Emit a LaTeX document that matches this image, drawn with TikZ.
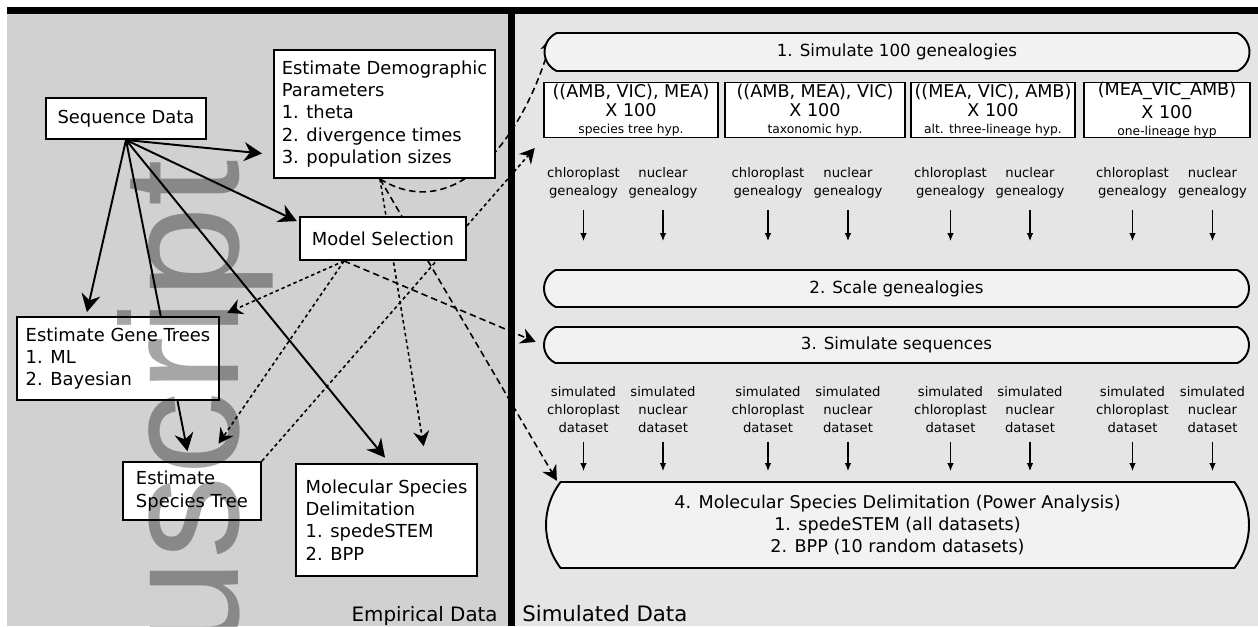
\documentclass[tikz,border=0pt]{standalone}
\usepackage{fontspec}
\setmainfont{DejaVu Sans}
\newfontfamily\myMarkFont{Liberation Sans}
\usetikzlibrary{arrows.meta,shapes.misc}
\pgfdeclarelayer{myPanel}
\pgfdeclarelayer{myLinks}
\pgfsetlayers{myPanel,myLinks,main}
\newcommand{\myHypNote}[1]{{\fontsize{7}{8}\selectfont #1}}
\tikzset{
myBox/.style={
	rectangle,draw,fill=white,line width=1.1pt,
	inner sep=0pt,align=left,
	font=\fontsize{10.2}{12.6}\selectfont
}
, myStage/.style={
	rounded rectangle,rounded rectangle arc length=130,
	draw,fill=black!5,line width=1.1pt,
	inner sep=0pt,minimum width=14.1cm,align=center,
	font=\fontsize{9.5}{12.5}\selectfont
}
, myHyp/.style={
	rectangle,draw,fill=white,line width=0.8pt,
	inner sep=0pt,minimum height=1.1cm,align=center,
	font=\fontsize{10}{11.2}\selectfont
}
, myLabel/.style={
	align=center,inner sep=1pt,
	font=\fontsize{7.5}{10.2}\selectfont
}
% links
, myFeed/.style={-{Stealth[length=3.6mm,width=3.8mm,inset=1.2mm]},line width=1.1pt}
, myLongLink/.style={-{Stealth[length=3mm,width=3.2mm,inset=1mm]},line width=0.9pt,dash pattern=on 1.3mm off 0.8mm}
, myShortLink/.style={-{Stealth[length=3mm,width=3.2mm,inset=1mm]},line width=0.9pt,dash pattern=on 0.7mm off 0.6mm}
, myFlow/.style={-{Latex[length=1.6mm,width=1.3mm]},line width=0.6pt}
}

\begin{document}
\begin{tikzpicture}
	\useasboundingbox (0,0) rectangle (25.16,-12.52);
	% panels
	\begin{pgfonlayer}{myPanel}
	\fill[black!18] (0.14,-0.28) rectangle (10.23,-12.52);
	\fill[black!10] (10.23,-0.28) rectangle (25.16,-12.52);
	\draw[line width=0.14cm] (0.14,-0.21) -- (25.16,-0.21);
	\draw[line width=0.13cm] (10.23,-0.14) -- (10.23,-12.52);
	\end{pgfonlayer}

	% empirical data
	\node[myBox,minimum width=3.2cm,minimum height=0.82cm] (seq) at (2.52,-2.37) {Sequence Data};
	\node[myBox,minimum width=4.42cm,minimum height=2.56cm] (demog) at (7.69,-2.28)
		{Estimate Demographic\\Parameters\\1. theta\\2. divergence times\\3. population sizes};
	\node[myBox,minimum width=3.32cm,minimum height=0.86cm] (model) at (7.66,-4.77) {Model Selection};
	\node[myBox,minimum width=4.04cm,minimum height=1.66cm] (genetrees) at (2.36,-7.17)
		{Estimate Gene Trees\\1. ML\\2. Bayesian};
	\node[myBox,minimum width=2.76cm,minimum height=1.16cm] (sptree) at (3.84,-9.82)
		{Estimate\\Species Tree};
	\node[myBox,minimum width=3.62cm,minimum height=2.24cm] (molspec) at (7.73,-10.4)
		{Molecular Species\\Delimitation\\1. spedeSTEM\\2. BPP};
	\node[inner sep=0pt,anchor=base east,font=\fontsize{11.3}{13}\selectfont] (empirical) at (9.96,-12.42) {Empirical Data};

	% simulated data
	\node[myStage,minimum height=0.76cm] (sim1) at (17.94,-1.04) {1. Simulate 100 genealogies};
	\node[myHyp,minimum width=3.48cm] (hyp1) at (12.62,-2.2)
		{((AMB, VIC), MEA)\\X 100\\[-1.5pt]\myHypNote{species tree hyp.}};
	\node[myHyp,minimum width=3.6cm] (hyp2) at (16.3,-2.2)
		{((AMB, MEA), VIC)\\X 100\\[-1.5pt]\myHypNote{taxonomic hyp.}};
	\node[myHyp,minimum width=3.28cm] (hyp3) at (19.86,-2.2)
		{((MEA, VIC), AMB)\\X 100\\[-1.5pt]\myHypNote{alt. three-lineage hyp.}};
	\node[myHyp,minimum width=3.32cm] (hyp4) at (23.34,-2.2)
		{(MEA\_VIC\_AMB)\\[1.5pt]X 100\\[-1.5pt]\myHypNote{one-lineage hyp}};
	\node[myStage,minimum height=0.74cm] (scale) at (17.93,-5.77) {2. Scale genealogies};
	\node[myStage,minimum height=0.72cm] (simseq) at (17.93,-6.9) {3. Simulate sequences};
	\node[myStage,minimum width=14.06cm,minimum height=1.72cm,rounded rectangle arc length=75,
		font=\fontsize{10}{12.5}\selectfont] (big) at (17.95,-10.5)
		{4. Molecular Species Delimitation (Power Analysis)\\1. spedeSTEM (all datasets)\\2. BPP (10 random datasets)};
	\node[inner sep=0pt,anchor=base west,font=\fontsize{12.1}{14}\selectfont] (simulated) at (10.44,-12.42) {Simulated Data};

	\foreach \c/\n [count=\i] in {11.67/13.26, 15.36/16.96, 19.01/20.6, 22.65/24.25} {
		\node[myLabel] (cg\i) at (\c,-3.66) {chloroplast\\genealogy};
		\node[myLabel] (ng\i) at (\n,-3.66) {nuclear\\genealogy};
		\node[myLabel] (cd\i) at (\c,-8.2) {simulated\\chloroplast\\dataset};
		\node[myLabel] (nd\i) at (\n,-8.2) {simulated\\nuclear\\dataset};
		\draw[myFlow,shorten <=0.2cm,shorten >=0.56cm] (cg\i.south) -- (cg\i.south |- scale.north);
		\draw[myFlow,shorten <=0.2cm,shorten >=0.56cm] (ng\i.south) -- (ng\i.south |- scale.north);
		\draw[myFlow,shorten <=0.13cm,shorten >=0.2cm] (cd\i.south) -- (cd\i.south |- big.north);
		\draw[myFlow,shorten <=0.13cm,shorten >=0.2cm] (nd\i.south) -- (nd\i.south |- big.north);
	}

	% links
	\begin{pgfonlayer}{myLinks}
	\draw[myFeed,shorten >=0.22cm] (seq.south) -- (demog.200);
	\draw[myFeed,shorten >=0.05cm] (seq.south) -- (model.169);
	\draw[myFeed,shorten >=0.08cm] (seq.south) -- (genetrees.127);
	\draw[myFeed,shorten >=0.2cm] (seq.south) -- (sptree.95);
	\draw[myFeed,shorten >=0.14cm] (seq.south) -- (molspec.87);

	\draw[myLongLink,shorten >=0.06cm] (demog.266) .. controls (9.1,-4.5) and (10.45,-2.8) .. (sim1.177);
	\draw[myShortLink,shorten >=0.34cm] (demog.266) -- (molspec.55);
	\draw[myLongLink,shorten >=0.06cm] (demog.266) -- (big.173);

	\draw[myShortLink,shorten >=0.16cm] (model.210) -- (genetrees.north east);
	\draw[myShortLink,shorten >=0.42cm] (model.210) -- (sptree.64);
	\draw[myLongLink,shorten >=0.16cm] (model.210) -- (simseq.west);
	\draw[myShortLink,shorten >=0.26cm] (sptree.north east) -- (hyp1.south west);
	\end{pgfonlayer}

	% watermark
	\begin{scope}[blend mode=multiply]
	\clip (0.14,-0.28) rectangle (10.23,-12.52);
	\node[rotate=90,anchor=base east,inner sep=0pt,text=black!35,
		font=\myMarkFont\fontsize{95}{95}\selectfont] (mark) at (4.76,-3.2) {uscript};
	\end{scope}
\end{tikzpicture}
\end{document}
